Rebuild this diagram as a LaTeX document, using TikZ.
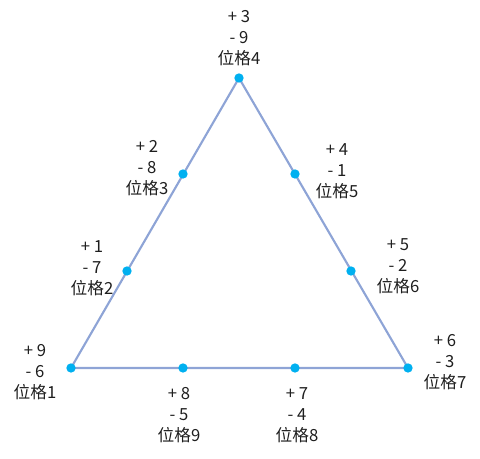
\documentclass[tikz,border=0pt]{standalone}
\usepackage{fontspec}
\setmainfont{Noto Sans CJK TC}
\usepackage{xcolor}
\usepackage{tikz}
\usetikzlibrary{positioning}
\definecolor{edgeblue}{RGB}{142,164,214}
\definecolor{dotcyan}{RGB}{0,176,240}
\definecolor{textgrey}{RGB}{30,30,30}
\tikzset{
  dot/.style={circle,fill=dotcyan,draw=none,minimum size=7pt,inner sep=0pt},
  edge/.style={draw=edgeblue,line width=1.6pt},
  poslabel/.style={align=center,font=\fontsize{12.5pt}{15.75pt}\selectfont,
    text=textgrey,inner sep=0pt}
}

\begin{document}
\begin{tikzpicture}[x=0.75pt,y=-0.75pt]
  \useasboundingbox (0,0) rectangle (480,459);
  % corners and points along the sides
  \coordinate (c1) at (71,368);
  \coordinate (c4) at (239,78);
  \coordinate (c7) at (408,368);
  \draw[edge] (c1) -- (c4) -- (c7) -- cycle;
  \node[dot] (p1) at (c1) {};
  \node[dot] (p2) at (127,271) {};
  \node[dot] (p3) at (183,174) {};
  \node[dot] (p4) at (c4) {};
  \node[dot] (p5) at (295,174) {};
  \node[dot] (p6) at (351,271) {};
  \node[dot] (p7) at (c7) {};
  \node[dot] (p8) at (295,368) {};
  \node[dot] (p9) at (183,368) {};
  % labels
  \node[poslabel] (l1) at (35,372) {+ 9\\- 6\\位格1};
  \node[poslabel] (l2) at (92,268) {+ 1\\- 7\\位格2};
  \node[poslabel] (l3) at (147,168) {+ 2\\- 8\\位格3};
  \node[poslabel] (l4) at (239,38) {+ 3\\- 9\\位格4};
  \node[poslabel] (l5) at (337,171) {+ 4\\- 1\\位格5};
  \node[poslabel] (l6) at (398,266) {+ 5\\- 2\\位格6};
  \node[poslabel] (l7) at (445,362) {+ 6\\- 3\\位格7};
  \node[poslabel] (l8) at (297,415) {+ 7\\- 4\\位格8};
  \node[poslabel] (l9) at (179,415) {+ 8\\- 5\\位格9};
\end{tikzpicture}
\end{document}
